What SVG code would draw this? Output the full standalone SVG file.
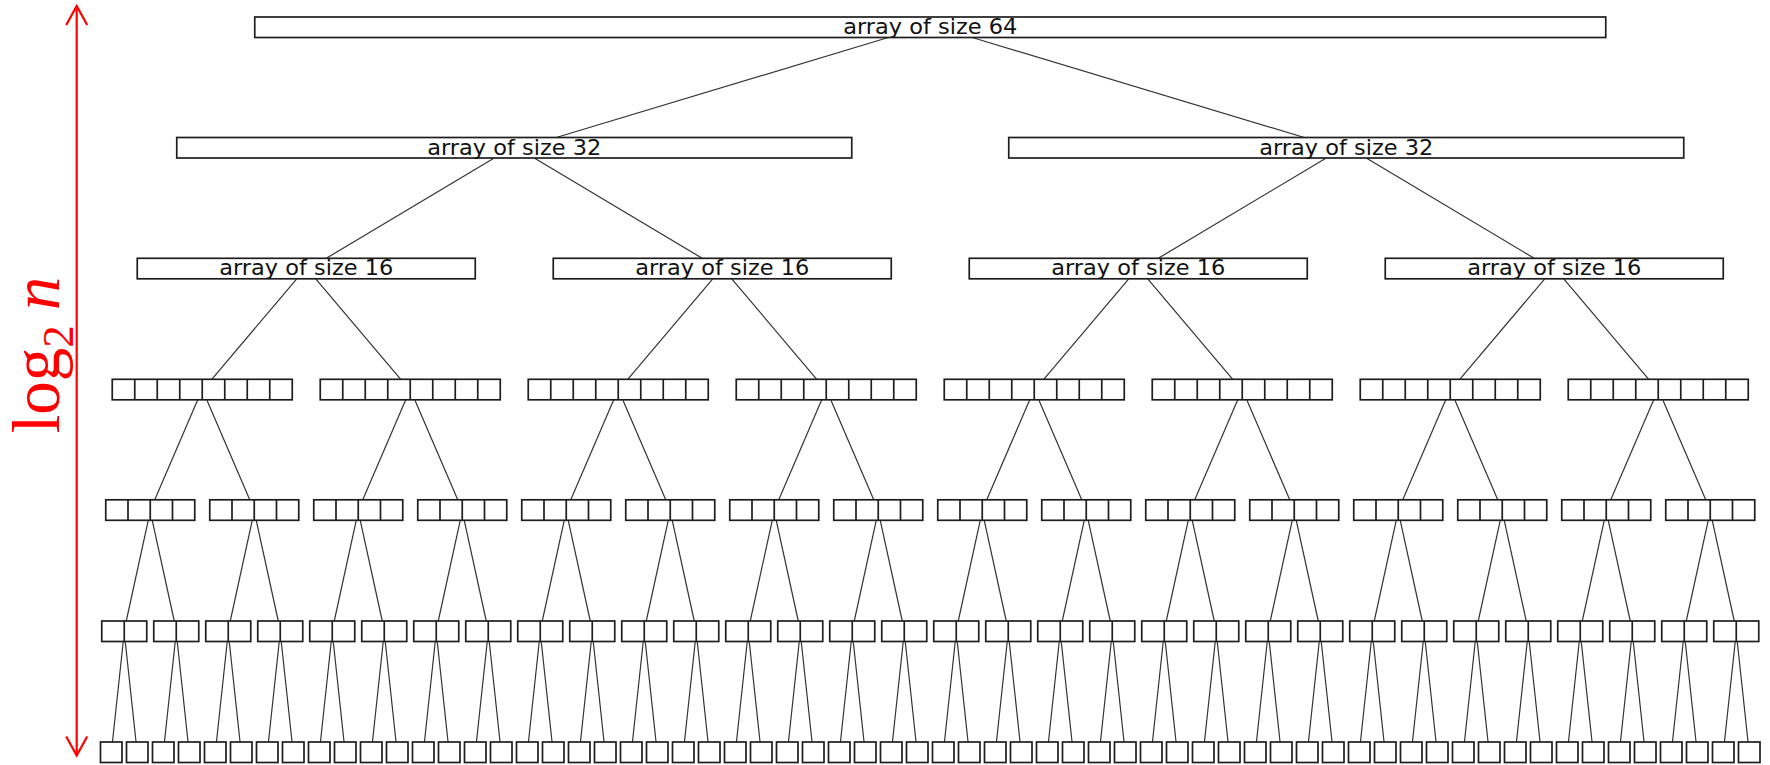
<svg xmlns="http://www.w3.org/2000/svg" xmlns:xlink="http://www.w3.org/1999/xlink" width="1770" height="765" viewBox="0 0 1770 765">
  <style>
    .box { fill: #ffffff; stroke: #1e1e1e; stroke-width: 1.7; }
    .div { stroke: #1e1e1e; stroke-width: 1.7; }
    .lbl { font-family: "DejaVu Sans", "Liberation Sans", sans-serif; font-size: 20.5px; fill: #111111; text-anchor: middle; }
    .edge { fill: none; stroke: #333333; stroke-width: 1.2; }
    .axis { fill: none; stroke: #ff0000; stroke-width: 2.2; }
    .axislbl { font-family: "Liberation Serif", "DejaVu Serif", serif; fill: #ff0000; text-anchor: middle; }
  </style>
  <defs>
    <marker id="chev" markerUnits="userSpaceOnUse" viewBox="-22 -12 24 24" markerWidth="24" markerHeight="24" refX="0" refY="0" orient="auto-start-reverse" overflow="visible">
      <path d="M-19,-10.5 L0,0 L-19,10.5" fill="none" stroke="#ff0000" stroke-width="2.2"/>
    </marker>
    <!-- cell strips: 1, 2, 4 and 8 cells -->
    <g id="b1"><rect class="box" x="0" y="0" width="21.5" height="20.5"/></g>
    <g id="b2"><rect class="box" x="0" y="0" width="45" height="20.5"/><path class="div" d="M22.5,0V20.5"/></g>
    <g id="b4"><rect class="box" x="0" y="0" width="89" height="20.5"/><path class="div" d="M22.25,0V20.5M44.5,0V20.5M66.75,0V20.5"/></g>
    <g id="b8"><rect class="box" x="0" y="0" width="180" height="20.5"/><path class="div" d="M22.5,0V20.5M45,0V20.5M67.5,0V20.5M90,0V20.5M112.5,0V20.5M135,0V20.5M157.5,0V20.5"/></g>
    <!-- forks from a parent (centred at x=0) to its two children -->
    <path id="f0" d="M-42,37.5L-374,137.5M42,37.5L374,137.5"/>
    <path id="f1" d="M-20,158L-188,258.3M20,158L188,258.3"/>
    <path id="f2" d="M-9.5,278.8L-94.5,379.3M9.5,278.8L94.5,379.3"/>
    <path id="f3" d="M-4.5,399.8L-47.5,499.8M4.5,399.8L47.5,499.8"/>
    <path id="f4" d="M-2,520.3L-24,621M2,520.3L24,621"/>
    <path id="f5" d="M-1,641.5L-11.8,742M1,641.5L11.8,742"/>
  </defs>

  <rect width="1770" height="765" fill="#ffffff"/>

  <!-- depth axis -->
  <g id="depth-axis">
    <line class="axis" x1="76.7" y1="6" x2="76.7" y2="755.5" marker-start="url(#chev)" marker-end="url(#chev)"/>
    <text class="axislbl" font-size="67" transform="translate(58.5,355) rotate(-90)">log<tspan font-size="45" dy="14">2</tspan><tspan font-style="italic" dx="15" dy="-14">n</tspan></text>
  </g>

  <g id="connectors" class="edge">
    <use href="#f0" x="930.25"/>
    <use href="#f1" x="514.25"/><use href="#f1" x="1346.25"/>
    <use href="#f2" x="306.25"/><use href="#f2" x="722.25"/><use href="#f2" x="1138.25"/><use href="#f2" x="1554.25"/>
    <use href="#f3" x="202.25"/><use href="#f3" x="410.25"/><use href="#f3" x="618.25"/><use href="#f3" x="826.25"/>
    <use href="#f3" x="1034.25"/><use href="#f3" x="1242.25"/><use href="#f3" x="1450.25"/><use href="#f3" x="1658.25"/>
    <use href="#f4" x="150.25"/><use href="#f4" x="254.25"/><use href="#f4" x="358.25"/><use href="#f4" x="462.25"/>
    <use href="#f4" x="566.25"/><use href="#f4" x="670.25"/><use href="#f4" x="774.25"/><use href="#f4" x="878.25"/>
    <use href="#f4" x="982.25"/><use href="#f4" x="1086.25"/><use href="#f4" x="1190.25"/><use href="#f4" x="1294.25"/>
    <use href="#f4" x="1398.25"/><use href="#f4" x="1502.25"/><use href="#f4" x="1606.25"/><use href="#f4" x="1710.25"/>
    <use href="#f5" x="124.25"/><use href="#f5" x="176.25"/><use href="#f5" x="228.25"/><use href="#f5" x="280.25"/>
    <use href="#f5" x="332.25"/><use href="#f5" x="384.25"/><use href="#f5" x="436.25"/><use href="#f5" x="488.25"/>
    <use href="#f5" x="540.25"/><use href="#f5" x="592.25"/><use href="#f5" x="644.25"/><use href="#f5" x="696.25"/>
    <use href="#f5" x="748.25"/><use href="#f5" x="800.25"/><use href="#f5" x="852.25"/><use href="#f5" x="904.25"/>
    <use href="#f5" x="956.25"/><use href="#f5" x="1008.25"/><use href="#f5" x="1060.25"/><use href="#f5" x="1112.25"/>
    <use href="#f5" x="1164.25"/><use href="#f5" x="1216.25"/><use href="#f5" x="1268.25"/><use href="#f5" x="1320.25"/>
    <use href="#f5" x="1372.25"/><use href="#f5" x="1424.25"/><use href="#f5" x="1476.25"/><use href="#f5" x="1528.25"/>
    <use href="#f5" x="1580.25"/><use href="#f5" x="1632.25"/><use href="#f5" x="1684.25"/><use href="#f5" x="1736.25"/>
  </g>

  <!-- level 0 -->
  <g id="n0"><rect class="box" x="254.75" y="17" width="1351" height="20.5"/><text class="lbl" x="930.25" y="33.5" textLength="174" lengthAdjust="spacingAndGlyphs">array of size 64</text></g>

  <!-- level 1 -->
  <g id="n1-0"><rect class="box" x="176.75" y="137.5" width="675" height="20.5"/><text class="lbl" x="514.25" y="154.5" textLength="174" lengthAdjust="spacingAndGlyphs">array of size 32</text></g>
  <g id="n1-1"><rect class="box" x="1008.75" y="137.5" width="675" height="20.5"/><text class="lbl" x="1346.25" y="154.5" textLength="174" lengthAdjust="spacingAndGlyphs">array of size 32</text></g>

  <!-- level 2 -->
  <g id="n2-0"><rect class="box" x="137.25" y="258.3" width="338" height="20.5"/><text class="lbl" x="306.25" y="275.3" textLength="174" lengthAdjust="spacingAndGlyphs">array of size 16</text></g>
  <g id="n2-1"><rect class="box" x="553.25" y="258.3" width="338" height="20.5"/><text class="lbl" x="722.25" y="275.3" textLength="174" lengthAdjust="spacingAndGlyphs">array of size 16</text></g>
  <g id="n2-2"><rect class="box" x="969.25" y="258.3" width="338" height="20.5"/><text class="lbl" x="1138.25" y="275.3" textLength="174" lengthAdjust="spacingAndGlyphs">array of size 16</text></g>
  <g id="n2-3"><rect class="box" x="1385.25" y="258.3" width="338" height="20.5"/><text class="lbl" x="1554.25" y="275.3" textLength="174" lengthAdjust="spacingAndGlyphs">array of size 16</text></g>

  <!-- level 3: eight cells each -->
  <g id="n3-0"><use href="#b8" x="112.25" y="379.3"/></g>
  <g id="n3-1"><use href="#b8" x="320.25" y="379.3"/></g>
  <g id="n3-2"><use href="#b8" x="528.25" y="379.3"/></g>
  <g id="n3-3"><use href="#b8" x="736.25" y="379.3"/></g>
  <g id="n3-4"><use href="#b8" x="944.25" y="379.3"/></g>
  <g id="n3-5"><use href="#b8" x="1152.25" y="379.3"/></g>
  <g id="n3-6"><use href="#b8" x="1360.25" y="379.3"/></g>
  <g id="n3-7"><use href="#b8" x="1568.25" y="379.3"/></g>

  <!-- level 4: four cells each -->
  <g id="n4-0"><use href="#b4" x="105.75" y="499.8"/></g>
  <g id="n4-1"><use href="#b4" x="209.75" y="499.8"/></g>
  <g id="n4-2"><use href="#b4" x="313.75" y="499.8"/></g>
  <g id="n4-3"><use href="#b4" x="417.75" y="499.8"/></g>
  <g id="n4-4"><use href="#b4" x="521.75" y="499.8"/></g>
  <g id="n4-5"><use href="#b4" x="625.75" y="499.8"/></g>
  <g id="n4-6"><use href="#b4" x="729.75" y="499.8"/></g>
  <g id="n4-7"><use href="#b4" x="833.75" y="499.8"/></g>
  <g id="n4-8"><use href="#b4" x="937.75" y="499.8"/></g>
  <g id="n4-9"><use href="#b4" x="1041.75" y="499.8"/></g>
  <g id="n4-10"><use href="#b4" x="1145.75" y="499.8"/></g>
  <g id="n4-11"><use href="#b4" x="1249.75" y="499.8"/></g>
  <g id="n4-12"><use href="#b4" x="1353.75" y="499.8"/></g>
  <g id="n4-13"><use href="#b4" x="1457.75" y="499.8"/></g>
  <g id="n4-14"><use href="#b4" x="1561.75" y="499.8"/></g>
  <g id="n4-15"><use href="#b4" x="1665.75" y="499.8"/></g>

  <!-- level 5: two cells each -->
  <g id="n5-0"><use href="#b2" x="101.75" y="621"/></g>
  <g id="n5-1"><use href="#b2" x="153.75" y="621"/></g>
  <g id="n5-2"><use href="#b2" x="205.75" y="621"/></g>
  <g id="n5-3"><use href="#b2" x="257.75" y="621"/></g>
  <g id="n5-4"><use href="#b2" x="309.75" y="621"/></g>
  <g id="n5-5"><use href="#b2" x="361.75" y="621"/></g>
  <g id="n5-6"><use href="#b2" x="413.75" y="621"/></g>
  <g id="n5-7"><use href="#b2" x="465.75" y="621"/></g>
  <g id="n5-8"><use href="#b2" x="517.75" y="621"/></g>
  <g id="n5-9"><use href="#b2" x="569.75" y="621"/></g>
  <g id="n5-10"><use href="#b2" x="621.75" y="621"/></g>
  <g id="n5-11"><use href="#b2" x="673.75" y="621"/></g>
  <g id="n5-12"><use href="#b2" x="725.75" y="621"/></g>
  <g id="n5-13"><use href="#b2" x="777.75" y="621"/></g>
  <g id="n5-14"><use href="#b2" x="829.75" y="621"/></g>
  <g id="n5-15"><use href="#b2" x="881.75" y="621"/></g>
  <g id="n5-16"><use href="#b2" x="933.75" y="621"/></g>
  <g id="n5-17"><use href="#b2" x="985.75" y="621"/></g>
  <g id="n5-18"><use href="#b2" x="1037.75" y="621"/></g>
  <g id="n5-19"><use href="#b2" x="1089.75" y="621"/></g>
  <g id="n5-20"><use href="#b2" x="1141.75" y="621"/></g>
  <g id="n5-21"><use href="#b2" x="1193.75" y="621"/></g>
  <g id="n5-22"><use href="#b2" x="1245.75" y="621"/></g>
  <g id="n5-23"><use href="#b2" x="1297.75" y="621"/></g>
  <g id="n5-24"><use href="#b2" x="1349.75" y="621"/></g>
  <g id="n5-25"><use href="#b2" x="1401.75" y="621"/></g>
  <g id="n5-26"><use href="#b2" x="1453.75" y="621"/></g>
  <g id="n5-27"><use href="#b2" x="1505.75" y="621"/></g>
  <g id="n5-28"><use href="#b2" x="1557.75" y="621"/></g>
  <g id="n5-29"><use href="#b2" x="1609.75" y="621"/></g>
  <g id="n5-30"><use href="#b2" x="1661.75" y="621"/></g>
  <g id="n5-31"><use href="#b2" x="1713.75" y="621"/></g>

  <!-- level 6: single cells -->
  <g id="n6-0"><use href="#b1" x="100.5" y="742"/></g>
  <g id="n6-1"><use href="#b1" x="126.5" y="742"/></g>
  <g id="n6-2"><use href="#b1" x="152.5" y="742"/></g>
  <g id="n6-3"><use href="#b1" x="178.5" y="742"/></g>
  <g id="n6-4"><use href="#b1" x="204.5" y="742"/></g>
  <g id="n6-5"><use href="#b1" x="230.5" y="742"/></g>
  <g id="n6-6"><use href="#b1" x="256.5" y="742"/></g>
  <g id="n6-7"><use href="#b1" x="282.5" y="742"/></g>
  <g id="n6-8"><use href="#b1" x="308.5" y="742"/></g>
  <g id="n6-9"><use href="#b1" x="334.5" y="742"/></g>
  <g id="n6-10"><use href="#b1" x="360.5" y="742"/></g>
  <g id="n6-11"><use href="#b1" x="386.5" y="742"/></g>
  <g id="n6-12"><use href="#b1" x="412.5" y="742"/></g>
  <g id="n6-13"><use href="#b1" x="438.5" y="742"/></g>
  <g id="n6-14"><use href="#b1" x="464.5" y="742"/></g>
  <g id="n6-15"><use href="#b1" x="490.5" y="742"/></g>
  <g id="n6-16"><use href="#b1" x="516.5" y="742"/></g>
  <g id="n6-17"><use href="#b1" x="542.5" y="742"/></g>
  <g id="n6-18"><use href="#b1" x="568.5" y="742"/></g>
  <g id="n6-19"><use href="#b1" x="594.5" y="742"/></g>
  <g id="n6-20"><use href="#b1" x="620.5" y="742"/></g>
  <g id="n6-21"><use href="#b1" x="646.5" y="742"/></g>
  <g id="n6-22"><use href="#b1" x="672.5" y="742"/></g>
  <g id="n6-23"><use href="#b1" x="698.5" y="742"/></g>
  <g id="n6-24"><use href="#b1" x="724.5" y="742"/></g>
  <g id="n6-25"><use href="#b1" x="750.5" y="742"/></g>
  <g id="n6-26"><use href="#b1" x="776.5" y="742"/></g>
  <g id="n6-27"><use href="#b1" x="802.5" y="742"/></g>
  <g id="n6-28"><use href="#b1" x="828.5" y="742"/></g>
  <g id="n6-29"><use href="#b1" x="854.5" y="742"/></g>
  <g id="n6-30"><use href="#b1" x="880.5" y="742"/></g>
  <g id="n6-31"><use href="#b1" x="906.5" y="742"/></g>
  <g id="n6-32"><use href="#b1" x="932.5" y="742"/></g>
  <g id="n6-33"><use href="#b1" x="958.5" y="742"/></g>
  <g id="n6-34"><use href="#b1" x="984.5" y="742"/></g>
  <g id="n6-35"><use href="#b1" x="1010.5" y="742"/></g>
  <g id="n6-36"><use href="#b1" x="1036.5" y="742"/></g>
  <g id="n6-37"><use href="#b1" x="1062.5" y="742"/></g>
  <g id="n6-38"><use href="#b1" x="1088.5" y="742"/></g>
  <g id="n6-39"><use href="#b1" x="1114.5" y="742"/></g>
  <g id="n6-40"><use href="#b1" x="1140.5" y="742"/></g>
  <g id="n6-41"><use href="#b1" x="1166.5" y="742"/></g>
  <g id="n6-42"><use href="#b1" x="1192.5" y="742"/></g>
  <g id="n6-43"><use href="#b1" x="1218.5" y="742"/></g>
  <g id="n6-44"><use href="#b1" x="1244.5" y="742"/></g>
  <g id="n6-45"><use href="#b1" x="1270.5" y="742"/></g>
  <g id="n6-46"><use href="#b1" x="1296.5" y="742"/></g>
  <g id="n6-47"><use href="#b1" x="1322.5" y="742"/></g>
  <g id="n6-48"><use href="#b1" x="1348.5" y="742"/></g>
  <g id="n6-49"><use href="#b1" x="1374.5" y="742"/></g>
  <g id="n6-50"><use href="#b1" x="1400.5" y="742"/></g>
  <g id="n6-51"><use href="#b1" x="1426.5" y="742"/></g>
  <g id="n6-52"><use href="#b1" x="1452.5" y="742"/></g>
  <g id="n6-53"><use href="#b1" x="1478.5" y="742"/></g>
  <g id="n6-54"><use href="#b1" x="1504.5" y="742"/></g>
  <g id="n6-55"><use href="#b1" x="1530.5" y="742"/></g>
  <g id="n6-56"><use href="#b1" x="1556.5" y="742"/></g>
  <g id="n6-57"><use href="#b1" x="1582.5" y="742"/></g>
  <g id="n6-58"><use href="#b1" x="1608.5" y="742"/></g>
  <g id="n6-59"><use href="#b1" x="1634.5" y="742"/></g>
  <g id="n6-60"><use href="#b1" x="1660.5" y="742"/></g>
  <g id="n6-61"><use href="#b1" x="1686.5" y="742"/></g>
  <g id="n6-62"><use href="#b1" x="1712.5" y="742"/></g>
  <g id="n6-63"><use href="#b1" x="1738.5" y="742"/></g>
</svg>
